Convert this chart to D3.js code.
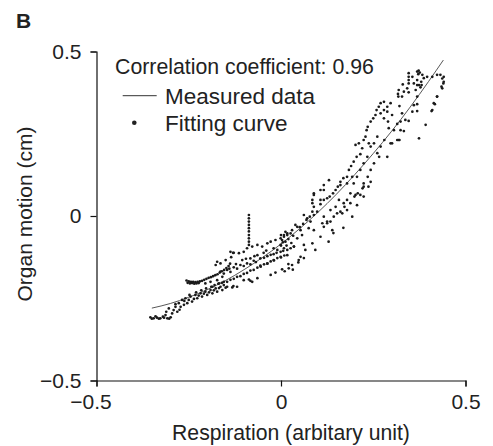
<!DOCTYPE html>
<html><head><meta charset="utf-8">
<script src="https://cdn.jsdelivr.net/npm/d3@7"></script>
<style>body{margin:0;background:#fff} text{font-family:"Liberation Sans",Arial,sans-serif;fill:#222}</style>
</head><body><svg id="c" width="493" height="446"></svg>
<script>
const xTicks=[-0.5,0,0.5];
const yTicks=[-0.5,0,0.5];
const xTitle="Respiration (arbitary unit)";
const yTitle="Organ motion (cm)";
const legendTexts=["Correlation coefficient: 0.96","Measured data","Fitting curve"];
// fitted curve
const fitX=[-0.35,-0.30,-0.25,-0.20,-0.15,-0.10,-0.05,0,0.05,0.10,0.15,0.20,0.25,0.30,0.35,0.40,0.44];
const fitY=[-0.280,-0.266,-0.247,-0.224,-0.196,-0.163,-0.126,-0.085,-0.039,0.011,0.066,0.126,0.190,0.258,0.331,0.409,0.474];
// scatter points (x, y)
const hookPts=[[-0.354,-0.308],[-0.345,-0.311],[-0.336,-0.309],[-0.327,-0.311],[-0.320,-0.306],[-0.313,-0.301],[-0.311,-0.291],[-0.308,-0.311],[-0.299,-0.308],[-0.304,-0.281],[-0.295,-0.296],[-0.291,-0.286],[-0.286,-0.276],[-0.281,-0.291],[-0.340,-0.305],[-0.331,-0.312],[-0.317,-0.309],[-0.303,-0.312],[-0.350,-0.312]];
const lowerBand=[[-0.277,-0.265],[-0.268,-0.255],[-0.272,-0.276],[-0.259,-0.250],[-0.254,-0.265],[-0.245,-0.245],[-0.241,-0.260],[-0.232,-0.240],[-0.227,-0.250],[-0.218,-0.235],[-0.214,-0.245],[-0.205,-0.230],[-0.200,-0.240],[-0.191,-0.225],[-0.186,-0.235],[-0.177,-0.220],[-0.173,-0.230],[-0.164,-0.215],[-0.155,-0.210],[-0.159,-0.225],[-0.263,-0.270],[-0.250,-0.255],[-0.236,-0.252],[-0.223,-0.242],[-0.209,-0.236],[-0.195,-0.232],[-0.182,-0.226],[-0.168,-0.219],[-0.150,-0.218],[-0.286,-0.268],[-0.275,-0.285],[-0.262,-0.258],[-0.248,-0.240],[-0.230,-0.232],[-0.216,-0.226],[-0.203,-0.220],[-0.189,-0.215],[-0.180,-0.210],[-0.170,-0.206],[-0.160,-0.203],[-0.146,-0.200],[-0.137,-0.194],[-0.128,-0.191],[-0.119,-0.185],[-0.110,-0.183],[-0.101,-0.176],[-0.092,-0.173],[-0.083,-0.166],[-0.074,-0.164],[-0.064,-0.157],[-0.055,-0.154],[-0.046,-0.147],[-0.037,-0.145],[-0.028,-0.138],[-0.019,-0.135],[-0.010,-0.128],[0.000,-0.126],[0.009,-0.120],[-0.205,-0.205],[-0.191,-0.200],[-0.186,-0.215],[-0.173,-0.195],[-0.168,-0.205],[-0.159,-0.185],[-0.155,-0.200]];
const upperBranch=[[-0.256,-0.196],[-0.250,-0.199],[-0.244,-0.200],[-0.238,-0.200],[-0.232,-0.201],[-0.226,-0.200],[-0.220,-0.199],[-0.214,-0.197],[-0.208,-0.194],[-0.202,-0.191],[-0.196,-0.188],[-0.190,-0.186],[-0.184,-0.183],[-0.178,-0.180],[-0.172,-0.177],[-0.166,-0.172],[-0.160,-0.168],[-0.154,-0.164],[-0.148,-0.158],[-0.142,-0.152],[-0.138,-0.145],[-0.135,-0.125],[-0.130,-0.112],[-0.173,-0.139],[-0.177,-0.149],[-0.164,-0.144],[-0.150,-0.134],[-0.137,-0.109],[-0.128,-0.112],[-0.114,-0.113],[-0.101,-0.109],[-0.092,-0.098],[-0.078,-0.093],[-0.064,-0.088],[-0.051,-0.093],[-0.037,-0.083],[-0.028,-0.078],[-0.015,-0.073],[-0.001,-0.068],[0.008,-0.058],[0.017,-0.053],[0.030,-0.043],[0.044,-0.033],[0.012,-0.048],[-0.253,-0.203],[-0.247,-0.205],[-0.241,-0.204],[-0.235,-0.206],[-0.229,-0.205],[-0.223,-0.204]];
const spikeY=[0.003,-0.007,-0.017,-0.027,-0.037,-0.047,-0.058,-0.068,-0.078,-0.088];
const spikeX=-0.087;
const middleBranch=[[-0.164,-0.169],[-0.146,-0.164],[-0.128,-0.156],[-0.110,-0.149],[-0.092,-0.144],[-0.074,-0.136],[-0.056,-0.129],[-0.037,-0.122],[-0.020,-0.116],[-0.001,-0.109],[0.017,-0.103],[0.035,-0.093],[-0.105,-0.134],[-0.083,-0.129],[-0.064,-0.119],[-0.047,-0.112],[-0.010,-0.103],[0.017,-0.119],[-0.001,-0.124],[-0.020,-0.134],[-0.037,-0.144],[-0.056,-0.151],[-0.155,-0.175],[-0.137,-0.170],[-0.119,-0.160],[-0.101,-0.152],[-0.083,-0.147],[-0.068,-0.140],[-0.046,-0.127],[-0.028,-0.118],[-0.012,-0.112],[0.006,-0.106],[0.026,-0.098],[-0.140,-0.160],[-0.122,-0.146],[-0.095,-0.130],[-0.072,-0.122],[-0.040,-0.105],[-0.020,-0.098],[0.000,-0.090]];
const lowScatter=[[-0.146,-0.215],[-0.132,-0.217],[-0.119,-0.215],[-0.101,-0.195],[-0.087,-0.193],[-0.078,-0.200],[-0.064,-0.189],[-0.028,-0.179],[-0.015,-0.172],[0.003,-0.162],[0.021,-0.159],[0.030,-0.149],[0.048,-0.134],[0.010,-0.168],[0.020,-0.146],[0.032,-0.163],[0.047,-0.141],[0.053,-0.124],[0.062,-0.128],[0.066,-0.103],[0.085,-0.083],[0.093,-0.103],[0.107,-0.063],[0.129,-0.078],[0.142,-0.052],[0.169,-0.036],[0.193,-0.002],[0.206,0.033],[0.224,0.059],[0.237,0.089],[0.243,0.104],[-0.129,-0.213],[-0.083,-0.197]];
const centerCloud=[[0.039,-0.027],[0.026,-0.053],[0.017,-0.058],[0.008,-0.063],[0.003,-0.073],[0.012,-0.078],[-0.001,-0.088],[0.008,-0.098],[0.053,-0.043],[0.057,-0.058],[0.044,-0.068],[0.062,-0.088],[0.035,-0.093],[0.075,-0.037],[0.089,-0.043],[0.080,-0.017],[0.071,-0.007],[0.089,0.003],[0.098,0.013],[0.112,-0.022],[0.116,-0.002],[0.125,-0.017],[0.139,-0.043],[0.134,0.018],[0.148,0.028],[0.157,0.049],[0.170,0.039],[0.179,0.018],[0.166,0.008],[0.188,0.069],[0.202,0.064],[0.215,0.064],[0.224,0.089],[0.161,0.094],[0.179,0.099],[0.197,0.099],[0.116,0.079],[0.089,0.064],[0.107,0.049],[0.085,0.039],[0.062,0.003],[0.005,-0.080],[0.020,-0.070],[0.028,-0.082],[0.015,-0.090],[0.033,-0.060],[0.000,-0.058]];
const upperCloud=[[0.051,-0.034],[0.060,-0.024],[0.069,-0.012],[0.078,-0.002],[0.085,0.013],[0.089,0.028],[0.107,0.036],[0.116,0.049],[0.125,0.054],[0.132,0.059],[0.141,0.069],[0.148,0.079],[0.154,0.089],[0.161,0.104],[0.169,0.115],[0.179,0.119],[0.193,0.119],[0.184,0.140],[0.190,0.152],[0.197,0.165],[0.205,0.180],[0.215,0.188],[0.220,0.206],[0.238,0.221],[0.243,0.211],[0.224,0.231],[0.229,0.241],[0.232,0.261],[0.235,0.271],[0.243,0.287],[0.250,0.297],[0.256,0.307],[0.259,0.322],[0.265,0.332],[0.270,0.343],[0.279,0.347],[0.270,0.312],[0.279,0.322],[0.288,0.332],[0.116,0.094],[0.107,0.079],[0.130,0.109],[0.089,0.069],[0.085,0.049],[0.211,0.221],[0.202,0.216]];
const lowerCloud=[[0.297,0.343],[0.288,0.317],[0.301,0.307],[0.279,0.297],[0.290,0.287],[0.292,0.267],[0.306,0.261],[0.315,0.231],[0.297,0.221],[0.280,0.231],[0.270,0.211],[0.261,0.191],[0.266,0.180],[0.252,0.160],[0.243,0.140],[0.235,0.119],[0.224,0.099],[0.221,0.084],[0.208,0.069],[0.199,0.059],[0.188,0.039],[0.179,0.049],[0.172,0.028],[0.161,0.013],[0.152,0.008],[0.143,-0.002],[0.134,-0.017],[0.125,-0.022],[0.116,-0.033],[0.261,0.241],[0.252,0.221],[0.234,0.180],[0.224,0.160],[0.215,0.140],[0.206,0.119]];
const topCluster=[[0.346,0.434],[0.356,0.423],[0.369,0.439],[0.376,0.436],[0.383,0.429],[0.387,0.419],[0.380,0.408],[0.374,0.398],[0.378,0.391],[0.346,0.403],[0.342,0.388],[0.333,0.378],[0.319,0.383],[0.317,0.371],[0.328,0.363],[0.360,0.403],[0.365,0.383],[0.369,0.363],[0.360,0.337],[0.356,0.317],[0.337,0.292],[0.328,0.312],[0.324,0.261],[0.319,0.231],[0.315,0.280],[0.301,0.221],[0.288,0.180],[0.374,0.236],[0.392,0.277],[0.410,0.322],[0.414,0.343],[0.423,0.363],[0.437,0.388],[0.440,0.403],[0.441,0.423],[0.432,0.429],[0.437,0.418],[0.372,0.431],[0.330,0.400],[0.346,0.423],[0.346,0.413],[0.373,0.442],[0.369,0.413],[0.381,0.398],[0.369,0.398],[0.396,0.423],[0.410,0.423],[0.423,0.429],[0.441,0.408],[0.435,0.393],[0.423,0.363],[0.417,0.340],[0.408,0.319],[0.321,0.231],[0.333,0.258],[0.346,0.289],[0.369,0.340],[0.369,0.319],[0.324,0.287],[0.321,0.334],[0.346,0.376],[0.318,0.363]];

const svg=d3.select('#c');
const x=d3.scaleLinear().domain([-0.5,0.5]).range([96.5,465.5]);
const y=d3.scaleLinear().domain([-0.5,0.5]).range([380.5,51.5]);
const fmt=d=> d<0 ? "\u2212"+Math.abs(d) : String(d);

const gx=svg.append('g').attr('transform','translate(0,380.5)')
  .call(d3.axisBottom(x).tickValues(xTicks).tickSize(6).tickSizeOuter(6).tickPadding(8).tickFormat(fmt));
gx.selectAll('text').attr('dx',d=>d<0?-6:0);
const gy=svg.append('g').attr('transform','translate(96.5,0)')
  .call(d3.axisLeft(y).tickValues(yTicks).tickSize(6).tickSizeOuter(6).tickPadding(9).tickFormat(fmt));
svg.selectAll('.domain,.tick line').attr('stroke','#111').attr('stroke-width',1.2);
svg.selectAll('.tick text').attr('font-size',21).attr('font-family','"Liberation Sans",Arial,sans-serif').attr('fill','#222');

svg.append('text').attr('x',291).attr('y',440).attr('text-anchor','middle').attr('font-size',21.2).text(xTitle);
svg.append('text').attr('transform','translate(32,214) rotate(-90)').attr('text-anchor','middle').attr('font-size',21).text(yTitle);
svg.append('text').attr('x',16).attr('y',28).attr('font-size',21).attr('font-weight','bold').text('B');

// legend
svg.append('text').attr('x',115).attr('y',74).attr('font-size',21.3).text(legendTexts[0]);
svg.append('line').attr('x1',122.7).attr('x2',156.7).attr('y1',95.7).attr('y2',95.7).attr('stroke','#333').attr('stroke-width',1);
svg.append('text').attr('x',165).attr('y',103.5).attr('font-size',22.5).text(legendTexts[1]);
svg.append('circle').attr('cx',134.3).attr('cy',122.7).attr('r',2.3).attr('fill','#222');
svg.append('text').attr('x',165).attr('y',130.5).attr('font-size',22.5).text(legendTexts[2]);

// fitted line
const fitData=fitX.map((v,i)=>[v,fitY[i]]);
svg.append('path').datum(fitData).attr('fill','none').attr('stroke','#444').attr('stroke-width',0.9)
  .attr('d',d3.line().x(d=>x(d[0])).y(d=>y(d[1])).curve(d3.curveMonotoneX));

const spikePts=spikeY.map(v=>[spikeX,v]);
const allPts=[].concat(hookPts,lowerBand,upperBranch,spikePts,middleBranch,lowScatter,centerCloud,upperCloud,lowerCloud,topCluster);
svg.append('g').selectAll('circle').data(allPts).join('circle')
  .attr('cx',d=>x(d[0])).attr('cy',d=>y(d[1])).attr('r',1.35).attr('fill','#1a1a1a');
</script></body></html>
